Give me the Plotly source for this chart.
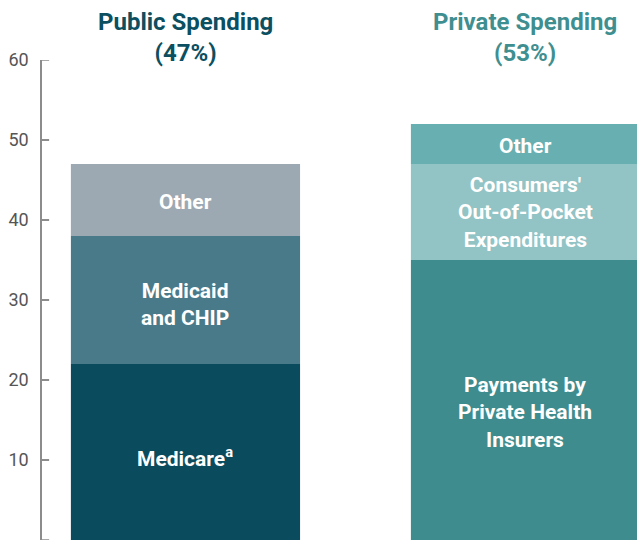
import plotly.graph_objects as go

groups = ["Public Spending<br>(47%)", "Private Spending<br>(53%)"]
group_colors = ["#0b4f61", "#3f8f90"]

public_labels = ["Medicare<sup>a</sup>", "Medicaid<br>and CHIP", "Other"]
public_values = [22, 16, 9]
public_colors = ["#0a4b5d", "#497a89", "#9da9b2"]

private_labels = ["Payments by<br>Private Health<br>Insurers", "Consumers'<br>Out-of-Pocket<br>Expenditures", "Other"]
private_values = [35, 12, 5]
private_colors = ["#3e8c8d", "#92c3c5", "#67afb0"]

y_ticks = [0, 10, 20, 30, 40, 50, 60]

BOLD = "Roboto, Liberation Sans, sans-serif"
TICK = "Roboto, Liberation Sans, sans-serif"

# small vertical nudges (px) of the in-bar labels
public_shift = [-5, -4, -2]
private_shift = [-12, 0, -2]

fig = go.Figure()
annotations = []
for gx, (labels, values, colors, shifts) in enumerate([
        (public_labels, public_values, public_colors, public_shift),
        (private_labels, private_values, private_colors, private_shift)]):
    base = 0
    for lab, val, col, sh in zip(labels, values, colors, shifts):
        fig.add_trace(go.Bar(x=[gx], y=[val], base=[base], marker_color=col,
                             marker_line_width=0, width=0.674, showlegend=False,
                             hoverinfo="skip"))
        annotations.append(dict(x=gx, y=base + val / 2, xref="x", yref="y",
                                yshift=sh,
                                text="<b>" + lab + "</b>", showarrow=False,
                                font=dict(family=BOLD, size=21, color="white")))
        base += val
    annotations.append(dict(x=gx, y=1.0, xref="x", yref="paper", yanchor="top",
                            yshift=54, text="<b>" + groups[gx] + "</b>", showarrow=False,
                            font=dict(family=BOLD, size=24, color=group_colors[gx])))

# inward tick marks on the y axis, one per tick value
tick_shapes = [dict(type="line", xref="paper", yref="y", x0=0, x1=0.012, y0=t, y1=t,
                    line=dict(color="#8c8c8c", width=1.5), layer="above")
               for t in y_ticks]

fig.update_layout(
    width=637, height=542,
    margin=dict(l=42, r=0, t=60, b=2),
    plot_bgcolor="white", paper_bgcolor="white",
    barmode="overlay",
    annotations=annotations,
    shapes=tick_shapes,
    xaxis=dict(range=[-0.422, 1.328], showticklabels=False, showgrid=False,
               zeroline=False, showline=False, ticks="", automargin=False),
    yaxis=dict(range=[0, 60], tickvals=y_ticks, showgrid=False, zeroline=False,
               showline=True, linecolor="#8c8c8c", linewidth=1.5,
               ticks="inside", ticklen=7, tickcolor="#8c8c8c", tickwidth=1.5,
               ticklabelstandoff=8, automargin=False,
               tickfont=dict(family=TICK, size=18, color="#555555")),
)

fig.write_html("out.html", config={"displayModeBar": False},
               post_script="document.body.style.margin='0';document.body.style.overflow='hidden';")
